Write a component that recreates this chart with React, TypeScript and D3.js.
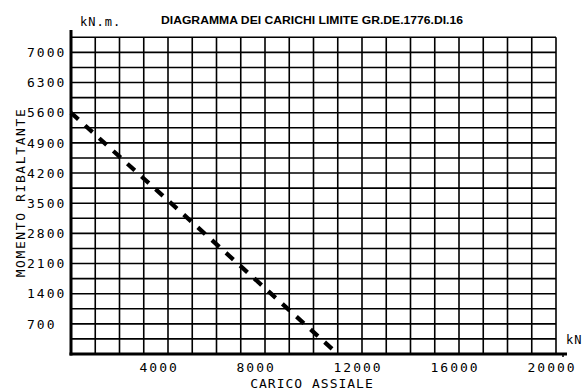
import React from "react";
import * as d3 from "d3";

const W = 587;
const H = 392;

const titleText = "DIAGRAMMA DEI CARICHI LIMITE GR.DE.1776.DI.16";
const yUnit = "kN.m.";
const xUnit = "kN";
const yTitle = "MOMENTO RIBALTANTE";
const xTitle = "CARICO ASSIALE";

const xTickLabels = [4000, 8000, 12000, 16000, 20000];
const yTickLabels = [700, 1400, 2100, 2800, 3500, 4200, 4900, 5600, 6300, 7000];
const xGridStep = 1000;
const yGridStep = 350;
const xMax = 20000;
const yMax = 7350;

const limitLoad = [0, 11000];
const limitMoment = [5600, 0];

export default function App() {
  const left = 71, right = 556, top = 37.3, bottom = 354;
  const x = d3.scaleLinear().domain([0, xMax]).range([left, right]);
  const y = d3.scaleLinear().domain([0, yMax]).range([bottom, top]);

  const xGrid = d3.range(xGridStep, xMax + 1, xGridStep);
  const yGrid = d3.range(yGridStep, yMax + 1, yGridStep);

  const pts = limitLoad.map((v, i) => [v, limitMoment[i]] as [number, number]);
  const line = d3.line<[number, number]>().x(d => x(d[0])).y(d => y(d[1]));

  const font = "'DejaVu Sans Mono', monospace";

  return (
    <svg width={W} height={H} style={{ position: "absolute", left: 0, top: 0, background: "#fff" }}>
      <rect x={0} y={0} width={W} height={H} fill="#fff" />
      {xGrid.map(v => (
        <line key={"vx" + v} x1={x(v)} x2={x(v)} y1={top} y2={bottom} stroke="#000" strokeWidth={1.6} />
      ))}
      {yGrid.map(v => (
        <line key={"hy" + v} x1={left} x2={right} y1={y(v)} y2={y(v)} stroke="#000" strokeWidth={1.6} />
      ))}
      {/* axes */}
      <line x1={left} x2={left} y1={30} y2={bottom + 1.5} stroke="#000" strokeWidth={3} />
      <line x1={left - 1.5} x2={567} y1={bottom} y2={bottom} stroke="#000" strokeWidth={3} />
      <line x1={563} x2={563} y1={bottom} y2={357} stroke="#000" strokeWidth={1.5} />

      {yTickLabels.map(v => (
        <text key={"yl" + v} x={27} y={y(v)} dy="0.36em" fontFamily={font} fontSize={13} letterSpacing={2} fill="#000">
          {v}
        </text>
      ))}
      {xTickLabels.map(v => (
        <text key={"xl" + v} x={x(v) - 28.5} y={372} fontFamily={font} fontSize={13} letterSpacing={2} fill="#000">
          {v}
        </text>
      ))}

      <path d={line(pts) || ""} fill="none" stroke="#000" strokeWidth={4.2} strokeDasharray="10,9" />

      <text x={161} y={24} fontFamily="'Liberation Sans', Arial, sans-serif" fontWeight="bold" fontSize={10} textLength={302} lengthAdjust="spacingAndGlyphs" fill="#000">
        {titleText}
      </text>
      <text x={80} y={26} fontFamily={font} fontSize={12} letterSpacing={1} fill="#000">{yUnit}</text>
      <text x={566} y={344} fontFamily={font} fontSize={12} letterSpacing={1} fill="#000">{xUnit}</text>
      <text x={312} y={388} textAnchor="middle" fontFamily={font} fontSize={13} letterSpacing={1} fill="#000">{xTitle}</text>
      <text transform={`translate(25,192.5) rotate(-90)`} textAnchor="middle" fontFamily={font} fontSize={13} letterSpacing={1.6} fill="#000">{yTitle}</text>
    </svg>
  );
}
